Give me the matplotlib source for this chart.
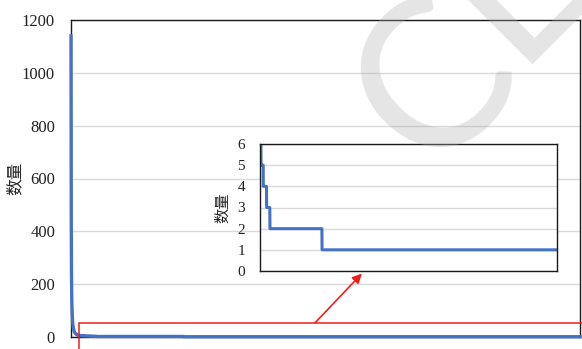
import numpy as np
import matplotlib
matplotlib.use("Agg")
import matplotlib.pyplot as plt
from matplotlib.patches import Rectangle

# Rank-ordered counts: the steep head, then runs of equal small counts
head_counts = [1140, 420, 230, 150, 105, 80, 62, 50, 41, 35, 30, 26, 23, 20,
               18, 16, 15, 14, 13, 12, 11, 10, 10, 9, 9, 8, 8, 8, 7, 7, 7, 7]
tail_values = [6, 5, 4, 3, 2, 1]
tail_lengths = [7, 15, 22, 22, 345, 1557]

main_yticks = [0, 200, 400, 600, 800, 1000, 1200]
inset_yticks = [0, 1, 2, 3, 4, 5, 6]
y_label = "数量"

counts = np.concatenate([head_counts, np.repeat(tail_values, tail_lengths)])
ranks = np.arange(1, len(counts) + 1)
tail_start = len(head_counts) + 1
zoom_top = 53

W, H = 582, 349
blue = "#4472C4"
grid = "#d9d9d9"
serif = ["Liberation Serif", "DejaVu Serif"]
cjk = ["Noto Sans CJK SC", "DejaVu Sans"]

fig = plt.figure(figsize=(W / 100, H / 100), dpi=100)
fig.patch.set_facecolor("white")


def px_axes(left, top, right, bottom):
    return fig.add_axes([left / W, (H - bottom) / H, (right - left) / W, (bottom - top) / H])


def style(ax, ticks, size, pad):
    ax.set_yticks(ticks)
    ax.set_xticks([])
    ax.tick_params(axis="y", length=0, pad=pad)
    for lab in ax.get_yticklabels():
        lab.set_family(serif)
        lab.set_fontsize(size)
        lab.set_color("#222222")
    ax.grid(axis="y", color=grid, lw=1.0)
    ax.set_axisbelow(True)
    for s in ax.spines.values():
        s.set_color("#1a1a1a")
        s.set_linewidth(1.0)


# main chart
ax = px_axes(71, 20, 580, 337)
ax.plot(ranks, counts, color=blue, lw=2.4, solid_joinstyle="round",
        clip_on=False, zorder=3)
ax.set_xlim(1, len(counts))
ax.set_ylim(0, 1200)
style(ax, main_yticks, 12, 11.5)
ax.set_ylabel(y_label, family=cjk, fontsize=12, color="#222222")
ax.yaxis.set_label_coords(-0.094, 0.5)

# zoomed view of the low-count tail
axin = px_axes(260, 144, 557, 271)
axin.set_facecolor("white")
axin.plot(ranks[tail_start - 1:], counts[tail_start - 1:], color=blue, lw=2.2)
axin.set_xlim(tail_start, len(counts))
axin.set_ylim(0, 6)
style(axin, inset_yticks, 11, 10.8)
axin.set_ylabel(y_label, family=cjk, fontsize=11, color="#222222")
axin.yaxis.set_label_coords(-0.098, 0.5)

# red frame around the zoomed region, extending past the plot edge
rect = Rectangle((tail_start, -53), len(counts) + 10 - tail_start, zoom_top + 53,
                 fill=False, ec="#f01e1e", lw=1.1, clip_on=False, zorder=5)
ax.add_patch(rect)

ax.annotate("", xy=(0.343, -0.02), xycoords=axin.transAxes,
            xytext=(959, zoom_top), textcoords="data",
            arrowprops=dict(arrowstyle="-|>", color="#f01e1e", lw=1.2,
                            mutation_scale=14, shrinkA=0, shrinkB=0),
            annotation_clip=False, zorder=6)

# light publisher mark
mark_font = ["Lato", "Liberation Sans"]
fig.text(436 / W, 1 - 84 / H, "C", family=mark_font, fontweight="normal",
         fontsize=150, rotation=45, rotation_mode="anchor",
         ha="center", va="center", color="#b0b0b0", alpha=0.33, zorder=20)
fig.text(514 / W, 1 - 64 / H, "L", family=mark_font, fontweight="normal",
         fontsize=150, rotation=45, rotation_mode="anchor",
         ha="left", va="baseline", color="#b0b0b0", alpha=0.33, zorder=20)

fig.savefig("out.png", dpi=100, facecolor="white")
